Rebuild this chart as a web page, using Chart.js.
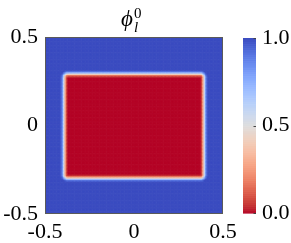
<!DOCTYPE html>
<html>
<head>
<meta charset="utf-8">
<script src="https://cdn.jsdelivr.net/npm/chart.js@4.4.1/dist/chart.umd.min.js"></script>
<style>
  html, body { margin: 0; padding: 0; background: #fff; }
  #wrap { position: relative; width: 291px; height: 243px; }
  canvas { position: absolute; left: 0; top: 0; }
</style>
</head>
<body>
<div id="wrap">
  <canvas id="main" width="291" height="243"></canvas>
  <canvas id="cbar" width="291" height="243"></canvas>
</div>
<script>
// ---------- data ----------
const titleBase = 'ϕ';
const titleSup = '0';
const titleSub = 'l';
const xTicks = [-0.5, 0, 0.5];
const xTickLabels = ['-0.5', '0', '0.5'];
const yTicks = [-0.5, 0, 0.5];
const yTickLabels = ['-0.5', '0', '0.5'];
const cbTicks = [0, 0.5, 1];
const cbTickLabels = ['0.0', '0.5', '1.0'];
// interface (phi = 0.5 contour) of the inner rectangle
const interfaceX = [-0.393, 0.393];
const interfaceY = [-0.295, 0.295];
const cornerRadius = [0.02];
// phi across the interface vs signed distance (negative = inside)
const profileDistance = [-0.02, -0.012, -0.006, 0, 0.006, 0.012, 0.02];
const profileValue    = [0.0,   0.1,    0.28,  0.5, 0.72, 0.9,  1.0];
const gridCount = 128;

// ---------- colormap (coolwarm, reversed: 0 = red, 1 = blue) ----------
const coolwarm = [
 [59,76,192],[68,90,204],[77,104,215],[87,117,225],[98,130,234],[108,142,241],
 [119,154,247],[130,165,251],[141,176,254],[152,185,255],[163,194,255],[174,201,253],
 [184,208,249],[194,213,244],[204,217,238],[213,219,230],[221,221,221],[229,216,209],
 [236,211,197],[241,204,184],[245,196,173],[247,187,160],[247,177,148],[247,166,135],
 [244,154,123],[241,141,111],[236,127,99],[229,112,88],[222,96,77],[213,80,66],
 [203,62,56],[192,40,47],[180,4,38]];
function cmap(v) {
  let t = 1 - Math.max(0, Math.min(1, v));
  const f = t * (coolwarm.length - 1);
  const i = Math.min(coolwarm.length - 2, Math.floor(f));
  const a = f - i;
  const c = coolwarm[i].map((c0, k) => Math.round(c0 + (coolwarm[i + 1][k] - c0) * a));
  return 'rgb(' + c[0] + ',' + c[1] + ',' + c[2] + ')';
}

function profile(d) {
  if (d <= profileDistance[0]) return profileValue[0];
  const n = profileDistance.length;
  if (d >= profileDistance[n - 1]) return profileValue[n - 1];
  for (let i = 0; i < n - 1; i++) {
    if (d <= profileDistance[i + 1]) {
      const a = (d - profileDistance[i]) / (profileDistance[i + 1] - profileDistance[i]);
      return profileValue[i] + a * (profileValue[i + 1] - profileValue[i]);
    }
  }
  return profileValue[n - 1];
}

// build the cells
const cells = [];
const step = 1 / gridCount;
const cx = (interfaceX[0] + interfaceX[1]) / 2, hw = (interfaceX[1] - interfaceX[0]) / 2;
const cy = (interfaceY[0] + interfaceY[1]) / 2, hh = (interfaceY[1] - interfaceY[0]) / 2;
const r = cornerRadius[0];
for (let j = 0; j < gridCount; j++) {
  for (let i = 0; i < gridCount; i++) {
    const x = -0.5 + (i + 0.5) * step;
    const y = -0.5 + (j + 0.5) * step;
    const qx = Math.abs(x - cx) - (hw - r);
    const qy = Math.abs(y - cy) - (hh - r);
    const d = Math.hypot(Math.max(qx, 0), Math.max(qy, 0)) + Math.min(Math.max(qx, qy), 0) - r;
    cells.push({ x: x, y: y, v: profile(d) });
  }
}

const FONT = '"Liberation Serif", "DejaVu Serif", serif';

const heatPlugin = {
  id: 'heat',
  beforeDatasetsDraw(chart) {
    const { ctx, scales: { x, y }, chartArea: ca } = chart;
    const data = chart.data.datasets[0].data;
    ctx.save();
    ctx.beginPath();
    ctx.rect(ca.left, ca.top, ca.right - ca.left, ca.bottom - ca.top);
    ctx.clip();
    for (const c of data) {
      const x0 = x.getPixelForValue(c.x - step / 2), x1 = x.getPixelForValue(c.x + step / 2);
      const y0 = y.getPixelForValue(c.y + step / 2), y1 = y.getPixelForValue(c.y - step / 2);
      ctx.fillStyle = cmap(c.v);
      ctx.fillRect(x0, y0, x1 - x0 + 0.6, y1 - y0 + 0.6);
    }
    ctx.restore();
  },
  afterDatasetsDraw(chart) {
    const { ctx, chartArea: ca } = chart;
    ctx.save();
    ctx.strokeStyle = '#5a5a5a';
    ctx.lineWidth = 1;
    ctx.strokeRect(Math.round(ca.left) + 0.5, Math.round(ca.top) + 0.5,
                   Math.round(ca.right - ca.left) - 1, Math.round(ca.bottom - ca.top) - 1);
    // title
    const mid = (ca.left + ca.right) / 2;
    ctx.fillStyle = '#000';
    ctx.textBaseline = 'alphabetic';
    ctx.textAlign = 'left';
    ctx.font = 'italic 23px ' + FONT;
    const w = ctx.measureText(titleBase).width;
    const x0 = mid - 13;
    ctx.fillText(titleBase, x0, 26);
    ctx.font = '15px ' + FONT;
    ctx.fillText(titleSup, x0 + w + 1, 18);
    ctx.font = 'italic 15px ' + FONT;
    ctx.fillText(titleSub, x0 + w + 1, 32);
    ctx.restore();
  }
};

function fixedTicks(vals) {
  return (axis) => { axis.ticks = vals.map(v => ({ value: v })); };
}

new Chart(document.getElementById('main'), {
  type: 'scatter',
  data: { datasets: [{ data: cells, pointRadius: 0, pointHoverRadius: 0 }] },
  options: {
    responsive: false,
    animation: false,
    events: [],
    layout: { padding: { left: 0, right: 68, top: 37, bottom: 0 } },
    plugins: { legend: { display: false }, tooltip: { enabled: false } },
    scales: {
      x: {
        type: 'linear', min: -0.5, max: 0.5,
        grid: { display: false, drawTicks: false },
        border: { display: false },
        afterBuildTicks: fixedTicks(xTicks),
        afterFit: (a) => { a.height = 29; },
        ticks: {
          color: '#000', padding: 5, maxRotation: 0, autoSkip: false,
          font: { family: FONT, size: 22 },
          callback: (v, i) => xTickLabels[i]
        }
      },
      y: {
        type: 'linear', min: -0.5, max: 0.5,
        grid: { display: false, drawTicks: false },
        border: { display: false },
        afterBuildTicks: fixedTicks(yTicks),
        afterFit: (a) => { a.width = 45; },
        ticks: {
          color: '#000', padding: 7, autoSkip: false,
          font: { family: FONT, size: 22 },
          callback: (v, i) => yTickLabels[i]
        }
      }
    }
  },
  plugins: [heatPlugin]
});

// ---------- colorbar ----------
const cbLevels = 256;
const cbPlugin = {
  id: 'cb',
  beforeDatasetsDraw(chart) {
    const { ctx, scales: { y }, chartArea: ca } = chart;
    ctx.save();
    for (let k = 0; k < cbLevels; k++) {
      const p0 = y.getPixelForValue((k + 1) / cbLevels);
      const p1 = y.getPixelForValue(k / cbLevels);
      ctx.fillStyle = cmap((k + 0.5) / cbLevels);
      ctx.fillRect(ca.left, p0, ca.right - ca.left, p1 - p0 + 0.6);
    }
    ctx.strokeStyle = '#444';
    ctx.lineWidth = 1;
    for (const t of cbTicks) {
      const p = Math.round(y.getPixelForValue(t)) + 0.5;
      ctx.beginPath();
      ctx.moveTo(ca.right - 2.5, p);
      ctx.lineTo(ca.right, p);
      ctx.stroke();
    }
    ctx.restore();
  }
};

new Chart(document.getElementById('cbar'), {
  type: 'bar',
  data: { labels: ['c'], datasets: [{ data: [0], backgroundColor: 'rgba(0,0,0,0)' }] },
  options: {
    responsive: false,
    animation: false,
    events: [],
    layout: { padding: { left: 243, right: 0, top: 38, bottom: 30 } },
    plugins: { legend: { display: false }, tooltip: { enabled: false } },
    scales: {
      x: { display: false },
      y: {
        position: 'right', min: 0, max: 1,
        grid: { display: false, drawTicks: false },
        border: { display: false },
        afterBuildTicks: fixedTicks(cbTicks),
        afterFit: (a) => { a.width = 35; },
        ticks: {
          color: '#000', padding: 6, autoSkip: false,
          font: { family: FONT, size: 22 },
          callback: (v, i) => cbTickLabels[i]
        }
      }
    }
  },
  plugins: [cbPlugin]
});
</script>
</body>
</html>
